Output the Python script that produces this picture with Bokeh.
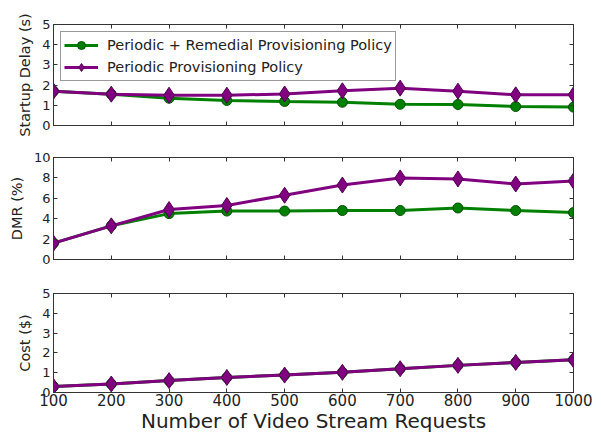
from bokeh.plotting import figure
from bokeh.layouts import column
from bokeh.models import LinearAxis, FixedTicker, Legend, LegendItem, Range1d
from bokeh.embed import file_html
from bokeh.resources import INLINE

requests = [100, 200, 300, 400, 500, 600, 700, 800, 900, 1000]
x_ticks = [100, 200, 300, 400, 500, 600, 700, 800, 900, 1000]

delay_remedial = [1.7, 1.55, 1.35, 1.24, 1.19, 1.15, 1.05, 1.04, 0.94, 0.91]
delay_periodic = [1.7, 1.55, 1.5, 1.5, 1.56, 1.72, 1.85, 1.7, 1.52, 1.52]

dmr_remedial = [1.6, 3.3, 4.5, 4.75, 4.75, 4.8, 4.8, 5.05, 4.8, 4.6]
dmr_periodic = [1.6, 3.3, 4.9, 5.3, 6.3, 7.3, 8.0, 7.9, 7.4, 7.7]

cost_remedial = [0.3, 0.43, 0.6, 0.76, 0.88, 1.02, 1.2, 1.37, 1.52, 1.65]
cost_periodic = [0.3, 0.43, 0.6, 0.76, 0.88, 1.02, 1.2, 1.37, 1.52, 1.65]

label_remedial = "Periodic + Remedial Provisioning Policy"
label_periodic = "Periodic Provisioning Policy"

GREEN = "#008000"
PURPLE = "#800080"
FONT = "DejaVu Sans"
W = 597
BL, BR = 53, 24


def style_axis(ax, show_labels, ticks, font_size="13px", standoff=3):
    ax.ticker = FixedTicker(ticks=ticks)
    ax.major_tick_in = 4
    ax.major_tick_out = 0
    ax.minor_tick_line_color = None
    ax.axis_line_color = "#333333"
    ax.major_tick_line_color = "#333333"
    ax.major_label_text_font = FONT
    if show_labels:
        ax.major_label_text_color = "#222222"
        ax.major_label_text_font_size = font_size
        ax.major_label_standoff = standoff
    else:
        ax.major_label_text_color = None
        ax.major_label_standoff = 0


def make_fig(height, btop, bbottom, y_end, yticks, ylabel, show_x):
    p = figure(width=W, height=height, output_backend="svg", toolbar_location=None,
               x_range=Range1d(100, 1000), y_range=Range1d(0, y_end),
               min_border_left=BL, min_border_right=BR,
               min_border_top=btop, min_border_bottom=bbottom,
               x_axis_location=None, y_axis_location=None)
    p.grid.grid_line_color = None
    p.outline_line_color = "#333333"
    p.outline_line_width = 1
    p.background_fill_color = "white"
    p.border_fill_color = "white"

    bottom = LinearAxis()
    style_axis(bottom, show_x, x_ticks, "15px", standoff=1)
    if show_x:
        bottom.axis_label = "Number of Video Stream Requests"
        bottom.axis_label_text_font = FONT
        bottom.axis_label_text_font_size = "20px"
        bottom.axis_label_text_font_style = "normal"
        bottom.axis_label_text_color = "#222222"
        bottom.axis_label_standoff = 0
    p.add_layout(bottom, "below")

    top = LinearAxis()
    style_axis(top, False, x_ticks)
    p.add_layout(top, "above")

    left = LinearAxis()
    style_axis(left, True, yticks, "13px")
    left.axis_label = ylabel
    left.axis_label_text_font = FONT
    left.axis_label_text_font_size = "14.5px"
    left.axis_label_text_font_style = "normal"
    left.axis_label_text_color = "#222222"
    left.axis_label_standoff = 6
    p.add_layout(left, "left")

    right = LinearAxis()
    style_axis(right, False, yticks)
    p.add_layout(right, "right")
    return p


def draw(p, y_rem, y_per):
    l1 = p.line(requests, y_rem, line_color=GREEN, line_width=3)
    m1 = p.scatter(requests, y_rem, marker="circle", size=10,
                   fill_color=GREEN, line_color="#005000", line_width=1)
    l2 = p.line(requests, y_per, line_color=PURPLE, line_width=3)
    m2 = p.scatter(requests, y_per, marker="diamond", size=16,
                   fill_color=PURPLE, line_color="#500050", line_width=1)
    return [l1, m1], [l2, m2]


p1 = make_fig(140, 24, 15, 5, [0, 1, 2, 3, 4, 5], "Startup Delay (s)", False)
r_rem, r_per = draw(p1, delay_remedial, delay_periodic)
legend = Legend(items=[LegendItem(label=label_remedial, renderers=r_rem),
                       LegendItem(label=label_periodic, renderers=r_per)],
                location="top_left")
legend.label_text_font = FONT
legend.label_text_font_size = "14.5px"
legend.label_text_color = "#222222"
legend.border_line_color = "#333333"
legend.border_line_width = 1
legend.background_fill_alpha = 1
legend.margin = 7
legend.padding = 3
legend.spacing = 2
legend.glyph_width = 34
legend.glyph_height = 20
legend.label_height = 20
legend.label_standoff = 9
p1.add_layout(legend, "center")

p2 = make_fig(136, 17, 17, 10, [0, 2, 4, 6, 8, 10], "DMR (%)", False)
draw(p2, dmr_remedial, dmr_periodic)

p3 = make_fig(159, 17, 42, 5, [0, 1, 2, 3, 4, 5], "Cost ($)", True)
draw(p3, cost_remedial, cost_periodic)

layout = column(p1, p2, p3, spacing=0)
open("out.html", "w").write(file_html(layout, INLINE))
